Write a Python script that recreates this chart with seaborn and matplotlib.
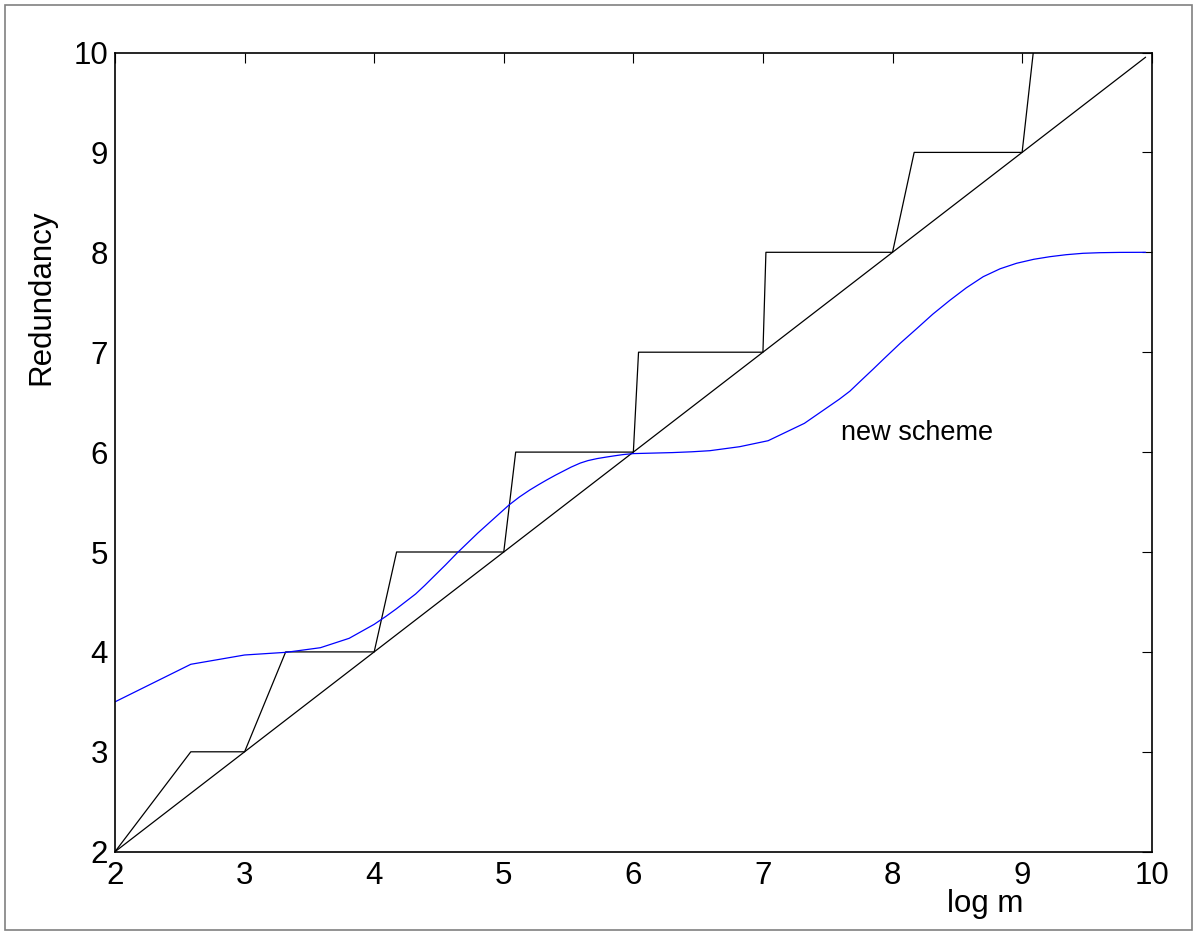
import matplotlib
matplotlib.use("Agg")
import matplotlib.pyplot as plt
import seaborn as sns
import pandas as pd
from matplotlib.patches import Rectangle

# Staircase (upper bound) vertices
step_x = [2.0, 2.585, 3.0, 3.317, 4.0, 4.173, 5.0, 5.092, 6.0, 6.04, 7.0, 7.023, 8.0, 8.167, 9.0, 9.086]
step_y = [2.0, 3.0, 3.0, 4.0, 4.0, 5.0, 5.0, 6.0, 6.0, 7.0, 7.0, 8.0, 8.0, 9.0, 9.0, 10.0]

# Diagonal (lower bound)
diag_x = [2.0, 9.953]
diag_y = [2.0, 9.953]

# New scheme curve
new_x = [2.0, 2.585, 3.0, 3.322, 3.585, 3.807, 4.0, 4.09, 4.17, 4.25, 4.32, 4.39, 4.46, 4.55, 4.64,
         4.72, 4.8, 4.92, 5.04, 5.12, 5.2, 5.27, 5.33, 5.4, 5.46, 5.52, 5.59, 5.65, 5.72, 5.79,
         5.85, 5.92, 6.0, 6.15, 6.3, 6.45, 6.59, 6.82, 7.04, 7.32, 7.59, 7.671, 7.76, 7.85, 7.93,
         8.06, 8.186, 8.31, 8.443, 8.57, 8.70, 8.83, 8.957, 9.09, 9.214, 9.34, 9.47, 9.6, 9.75, 9.953]
new_y = [3.5, 3.876, 3.969, 3.996, 4.042, 4.136, 4.276, 4.355, 4.43, 4.51, 4.58, 4.665, 4.755, 4.87, 4.99,
         5.09, 5.19, 5.33, 5.47, 5.55, 5.62, 5.675, 5.72, 5.77, 5.81, 5.85, 5.89, 5.915, 5.935, 5.95,
         5.962, 5.975, 5.985, 5.99, 5.995, 6.003, 6.014, 6.054, 6.114, 6.288, 6.53, 6.61, 6.72, 6.83, 6.93,
         7.09, 7.235, 7.38, 7.52, 7.645, 7.756, 7.835, 7.89, 7.93, 7.956, 7.976, 7.99, 7.996, 7.999, 8.0]

ticks = [2, 3, 4, 5, 6, 7, 8, 9, 10]

sns.set_style("white")
plt.rcParams['font.family'] = ['Liberation Sans', 'DejaVu Sans']
plt.rcParams['text.color'] = 'black'
plt.rcParams['axes.labelcolor'] = 'black'

fig = plt.figure(figsize=(11.97, 9.35), dpi=100)
ax = fig.add_axes([115 / 1197, 1 - 851.7 / 935, (1151.7 - 115) / 1197, (851.7 - 52.5) / 935])

df_step = pd.DataFrame({"x": step_x, "y": step_y})
df_diag = pd.DataFrame({"x": diag_x, "y": diag_y})
df_new = pd.DataFrame({"x": new_x, "y": new_y})

sns.lineplot(data=df_step, x="x", y="y", sort=False, estimator=None, color="black", linewidth=0.9, ax=ax)
sns.lineplot(data=df_diag, x="x", y="y", sort=False, estimator=None, color="black", linewidth=0.9, ax=ax)
sns.lineplot(data=df_new, x="x", y="y", sort=False, estimator=None, color="#0000ff", linewidth=0.9, ax=ax)

ax.set_xlim(2, 10)
ax.set_ylim(2, 10)
ax.set_xticks(ticks)
ax.set_yticks(ticks)
ax.set_xticklabels([str(t) for t in ticks])
ax.set_yticklabels([str(t) for t in ticks])
ax.tick_params(direction='in', top=True, right=True, length=7, width=0.8,
               labelsize=22.5, colors='black')
ax.tick_params(axis='x', pad=6.5)
ax.tick_params(axis='y', pad=5)
for s in ax.spines.values():
    s.set_visible(True)
    s.set_color('black')
    s.set_linewidth(1.2)

ax.set_xlabel("log m", fontsize=22.5, color='black')
ax.xaxis.set_label_coords(0.839, -0.065)
ax.xaxis.label.set_verticalalignment('center')
ax.set_ylabel("Redundancy", fontsize=22.5, color='black')
ax.yaxis.set_label_coords(-0.0714, 0.694)
ax.yaxis.label.set_verticalalignment('center')

ax.text(7.6, 6.19, "new scheme", fontsize=19.5, ha='left', va='center', color='black')

fig.patches.append(Rectangle((5 / 1197, 5 / 935), (1192 - 5) / 1197, (930 - 5) / 935,
                             transform=fig.transFigure, fill=False, edgecolor='#808080',
                             linewidth=1.2))

fig.savefig("out.png", dpi=100)
